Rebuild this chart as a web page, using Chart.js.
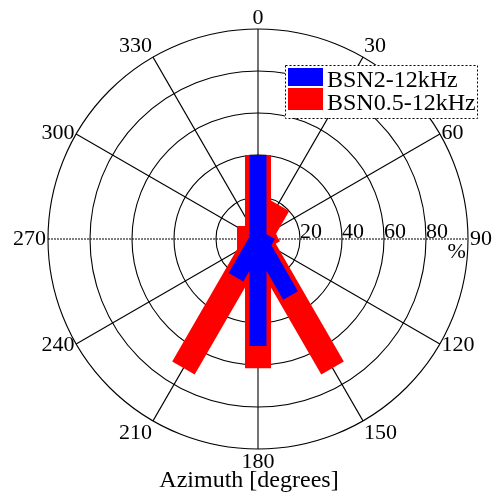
<!DOCTYPE html>
<html>
<head>
<meta charset="utf-8">
<script src="https://cdn.jsdelivr.net/npm/chart.js@4/dist/chart.umd.min.js"></script>
<style>
  html, body { margin: 0; padding: 0; background: #ffffff; }
  canvas { display: block; }
</style>
</head>
<body>
<canvas id="c" width="496" height="493" style="width:496px;height:493px"></canvas>
<script>
// ---- data (azimuth bins in degrees, percentage of time) ----
const azimuths = [0, 30, 60, 90, 120, 150, 180, 210, 240, 270, 300, 330];
const bsn2 = [40, 2, 2, 3, 7, 31, 51, 21, 3, 3, 2, 2];          // BSN2-12kHz
const bsn05 = [40, 19, 8.5, 7, 7, 71, 61.5, 71, 7, 10, 8, 3];    // BSN0.5-12kHz
const seriesLabels = ['BSN2-12kHz', 'BSN0.5-12kHz'];
const seriesColors = ['#0000ff', '#ff0000'];
const ringTicks = [20, 40, 60, 80];
const rMax = 100;
const angleTicks = [0, 30, 60, 90, 120, 150, 180, 210, 240, 270, 300, 330];
const axisTitle = 'Azimuth [degrees]';
const unitLabel = '%';

const SERIF = "'Liberation Serif', 'DejaVu Serif', serif";

function rayPoints(values) {
  const pts = [];
  azimuths.forEach((az, i) => {
    const a = az * Math.PI / 180;
    pts.push({x: 0, y: 0});
    pts.push({x: values[i] * Math.sin(a), y: values[i] * Math.cos(a)});
    pts.push({x: 0, y: null});
  });
  return pts;
}

const polarGrid = {
  id: 'polarGrid',
  beforeDatasetsDraw(chart) {
    const ctx = chart.ctx, xs = chart.scales.x, ys = chart.scales.y;
    const cx = xs.getPixelForValue(0), cy = ys.getPixelForValue(0);
    const px = v => xs.getPixelForValue(v) - cx;
    ctx.save();
    ctx.strokeStyle = '#000';
    ctx.lineWidth = 1.1;
    // rings
    [...ringTicks, rMax].forEach(v => {
      ctx.beginPath();
      ctx.arc(cx, cy, px(v), 0, Math.PI * 2);
      ctx.stroke();
    });
    // spokes (diameters)
    for (let k = 0; k < 6; k++) {
      const az = angleTicks[k];
      const a = az * Math.PI / 180;
      const R = px(rMax);
      ctx.setLineDash(az === 90 ? [2, 1] : []);
      ctx.beginPath();
      ctx.moveTo(cx - R * Math.sin(a), cy + R * Math.cos(a));
      ctx.lineTo(cx + R * Math.sin(a), cy - R * Math.cos(a));
      ctx.stroke();
    }
    ctx.restore();
  },
  afterDraw(chart) {
    const ctx = chart.ctx, xs = chart.scales.x, ys = chart.scales.y;
    const cx = xs.getPixelForValue(0), cy = ys.getPixelForValue(0);
    const px = v => xs.getPixelForValue(v) - cx;
    ctx.save();
    ctx.fillStyle = '#000';
    // radial tick labels
    ctx.font = '22px ' + SERIF;
    ctx.textAlign = 'left';
    ctx.textBaseline = 'alphabetic';
    ringTicks.forEach(v => ctx.fillText(String(v), cx + px(v), cy - 1));
    // unit label
    ctx.textBaseline = 'top';
    ctx.fillText(unitLabel, cx + px(rMax) * 0.902, cy + 2);
    // angle labels
    const R = px(rMax) + 2;
    angleTicks.forEach(az => {
      const a = az * Math.PI / 180;
      const s = Math.sin(a), c = Math.cos(a);
      ctx.textAlign = Math.abs(s) < 0.1 ? 'center' : (s > 0 ? 'left' : 'right');
      ctx.textBaseline = c >= 0.6 ? 'bottom' : (c <= -0.6 ? 'top' : 'middle');
      ctx.fillText(String(az), cx + R * s, cy - R * c + (ctx.textBaseline === 'bottom' ? 2 : 0));
    });
    // axis title
    ctx.font = '24px ' + SERIF;
    ctx.textAlign = 'center';
    ctx.textBaseline = 'alphabetic';
    ctx.fillText(axisTitle, cx - 9, chart.height - 6);
    // legend
    const lx = 285, ly = 65, lw = 192, lh = 53;
    ctx.fillStyle = '#fff';
    ctx.fillRect(lx, ly, lw, lh);
    ctx.strokeStyle = '#000';
    ctx.lineWidth = 1;
    ctx.setLineDash([2, 2]);
    ctx.strokeRect(lx + 0.5, ly + 0.5, lw, lh);
    ctx.setLineDash([]);
    const ds = chart.data.datasets;
    const rows = [{top: 68, h: 18, base: 87}, {top: 88, h: 22, base: 110}];
    ds.forEach((d, i) => {
      ctx.fillStyle = d.borderColor;
      ctx.fillRect(288, rows[i].top, 35, rows[i].h);
      ctx.fillStyle = '#000';
      ctx.font = '24px ' + SERIF;
      ctx.textAlign = 'left';
      ctx.textBaseline = 'alphabetic';
      ctx.fillText(d.label, 327, rows[i].base);
    });
    ctx.restore();
  }
};

new Chart(document.getElementById('c'), {
  type: 'scatter',
  data: {
    datasets: [
      {label: seriesLabels[0], data: rayPoints(bsn2), borderColor: seriesColors[0], backgroundColor: seriesColors[0],
       showLine: true, borderWidth: 17, borderCapStyle: 'butt', spanGaps: false, pointRadius: 0, tension: 0},
      {label: seriesLabels[1], data: rayPoints(bsn05), borderColor: seriesColors[1], backgroundColor: seriesColors[1],
       showLine: true, borderWidth: 26, borderCapStyle: 'butt', spanGaps: false, pointRadius: 0, tension: 0}
    ]
  },
  options: {
    responsive: false,
    animation: false,
    layout: {padding: {left: 48, right: 28, top: 29, bottom: 44}},
    scales: {
      x: {type: 'linear', min: -rMax, max: rMax, display: false},
      y: {type: 'linear', min: -rMax, max: rMax, display: false}
    },
    plugins: {legend: {display: false}, tooltip: {enabled: false}},
    events: []
  },
  plugins: [polarGrid]
});
</script>
</body>
</html>
